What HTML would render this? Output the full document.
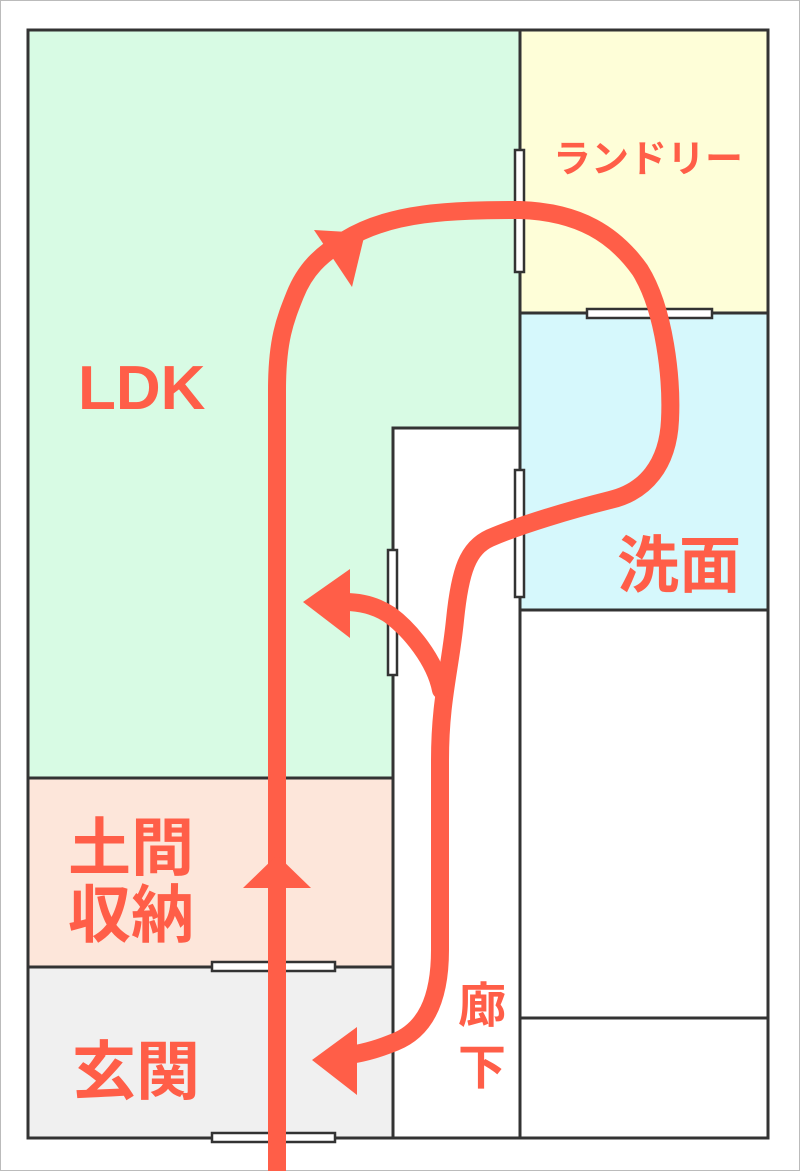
<!DOCTYPE html>
<html><head><meta charset="utf-8"><style>
html,body{margin:0;padding:0;background:#fff}
svg{display:block}
text{font-family:"Liberation Sans","Noto Sans CJK JP",sans-serif;font-weight:bold;fill:#ff5e48}
</style></head><body>
<svg width="800" height="1171" viewBox="0 0 800 1171" xmlns="http://www.w3.org/2000/svg">
<rect x="0.5" y="0.5" width="799" height="1170" fill="#fff" stroke="#bbb"/>
<rect x="28" y="30" width="492" height="748" fill="#d8fbe4"/>
<rect x="520" y="30" width="248" height="283" fill="#fefed8"/>
<rect x="520" y="313" width="248" height="297" fill="#d6f8fc"/>
<rect x="520" y="610" width="248" height="528" fill="#fff"/>
<rect x="28" y="778" width="365" height="189" fill="#fde6da"/>
<rect x="28" y="967" width="365" height="171" fill="#f0f0f0"/>
<rect x="393" y="428" width="127" height="710" fill="#fff"/>
<g stroke="#333" stroke-width="3" fill="none">
<rect x="28" y="30" width="740" height="1108"/>
<line x1="520" y1="30" x2="520" y2="1138"/>
<line x1="520" y1="313" x2="768" y2="313"/>
<line x1="520" y1="610" x2="768" y2="610"/>
<line x1="520" y1="1018" x2="768" y2="1018"/>
<polyline points="520,428 393,428 393,1138"/>
<line x1="28" y1="778" x2="393" y2="778"/>
<line x1="28" y1="967" x2="393" y2="967"/>
</g>
<g stroke="#333" stroke-width="2.5" fill="#fff">
<rect x="515" y="150" width="9" height="122"/>
<rect x="587" y="309" width="125" height="9"/>
<rect x="515" y="470" width="9" height="127"/>
<rect x="388" y="550" width="9" height="125"/>
<rect x="212" y="962" width="123" height="9"/>
<rect x="212" y="1133" width="123" height="9"/>
</g>
<g stroke="#ff5e48" stroke-width="18" fill="none" stroke-linecap="round" stroke-linejoin="round">
<path d="M277 1171 L277 390 C277 340 285 320 295 295 C305 270 320 255 345 240 C390 212 450 210 520 210 C580 212 615 235 640 270 C665 310 672 380 670 420 C668 465 645 492 610 500 C570 510 520 525 490 538 C468 548 460 570 455 620 C450 670 440 700 440 760 L440 950 C440 1000 425 1030 395 1042 C380 1048 368 1052 350 1055"/>
<path d="M441 690 C435 660 410 630 390 615 C375 605 360 602 345 602"/>
</g>
<g fill="#ff5e48">
<polygon points="277,855 243,888 311,888"/>
<polygon points="314,230 352,287 365,233"/>
<polygon points="303,602 350,569 350,638"/>
<polygon points="312,1060 357,1027 357,1095"/>
</g>
<text x="78" y="409" font-size="62">LDK</text>
<text x="553" y="172" font-size="38">ランドリー</text>
<text x="617" y="587" font-size="62">洗面</text>
<text x="68" y="870" font-size="63">土間</text>
<text x="68" y="937" font-size="63">収納</text>
<text x="72" y="1094" font-size="64">玄関</text>
<text x="458" y="1022" font-size="48">廊</text>
<text x="458" y="1084" font-size="48">下</text>
</svg>
</body></html>
